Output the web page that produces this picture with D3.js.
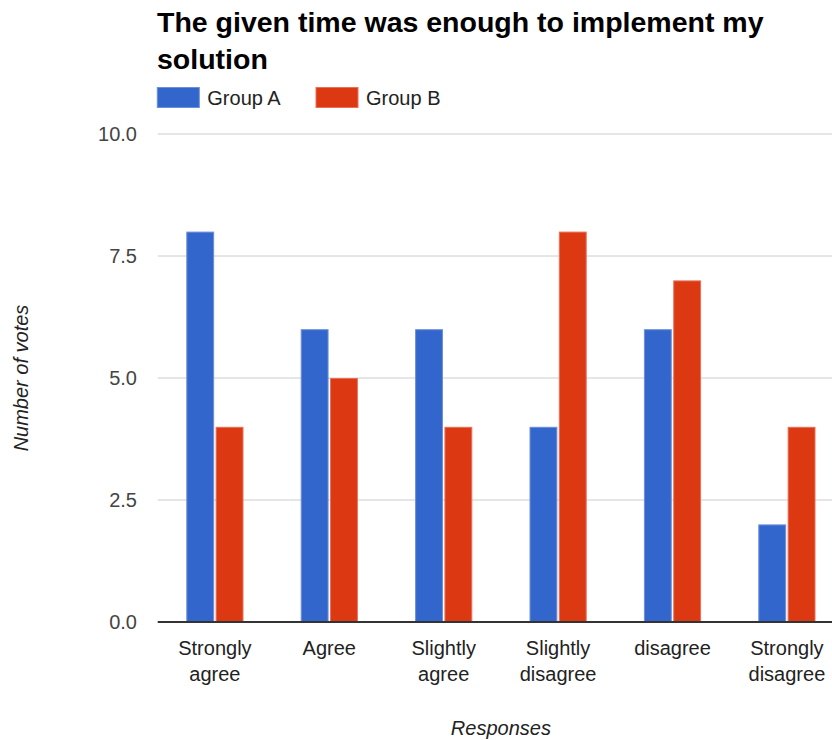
<!DOCTYPE html>
<html>
<head>
<meta charset="utf-8">
<script src="https://cdn.jsdelivr.net/npm/d3@7"></script>
<style>
  body { margin: 0; background: #fff; }
  svg { display: block; font-family: "Liberation Sans", Arial, Helvetica, sans-serif; }
</style>
</head>
<body>
<svg id="chart" width="832" height="740"></svg>
<script>
const titleLines = ["The given time was enough to implement my", "solution"];
const categories = [["Strongly", "agree"], ["Agree"], ["Slightly", "agree"], ["Slightly", "disagree"], ["disagree"], ["Strongly", "disagree"]];
const seriesNames = ["Group A", "Group B"];
const groupA = [8, 6, 6, 4, 6, 2];
const groupB = [4, 5, 4, 8, 7, 4];
const colors = ["#3366cc", "#dc3912"];
const strokeColors = ["#6c8fdb", "#e8705a"];
const yTicks = [0, 2.5, 5, 7.5, 10];
const yTitle = "Number of votes";
const xTitle = "Responses";

const svg = d3.select("#chart");
const plotLeft = 157.7, plotRight = 844.1, plotTop = 134, plotBottom = 622;

const x = d3.scaleBand().domain(d3.range(categories.length)).range([plotLeft, plotRight])
  .paddingInner(0.5).paddingOuter(0.25);
const xInner = d3.scaleBand().domain([0, 1]).range([0, x.bandwidth()]).paddingInner(0.05);
const y = d3.scaleLinear().domain([0, 10]).range([plotBottom, plotTop]);

// gridlines
svg.append("g").selectAll("line").data(yTicks.filter(t => t !== 0)).join("line")
  .attr("x1", plotLeft).attr("x2", 832)
  .attr("y1", d => y(d)).attr("y2", d => y(d))
  .attr("stroke", "#cccccc").attr("stroke-width", 1);

// y tick labels
svg.append("g").selectAll("text").data(yTicks).join("text")
  .attr("x", 137).attr("y", d => y(d)).attr("dy", "0.36em")
  .attr("text-anchor", "end").attr("font-size", 20).attr("fill", "#444")
  .text(d => d3.format(".1f")(d));

// bars
const series = [groupA, groupB];
const gBars = svg.append("g");
series.forEach((vals, si) => {
  gBars.append("g").selectAll("rect").data(vals).join("rect")
    .attr("x", (d, i) => x(i) + xInner(si) + 0.5)
    .attr("y", d => y(d) + 0.5)
    .attr("width", xInner.bandwidth() - 1)
    .attr("height", d => y(0) - y(d) - 0.5)
    .attr("fill", colors[si])
    .attr("stroke", strokeColors[si]).attr("stroke-width", 1);
});

// baseline
svg.append("line").attr("x1", plotLeft).attr("x2", 832).attr("y1", y(0)).attr("y2", y(0))
  .attr("stroke", "#333").attr("stroke-width", 2);

// x labels
const xl = svg.append("g").selectAll("text").data(categories).join("text")
  .attr("text-anchor", "middle").attr("font-size", 20).attr("fill", "#222")
  .attr("y", 655);
xl.each(function(lines, i) {
  const t = d3.select(this);
  lines.forEach((ln, j) => {
    t.append("tspan").attr("x", x(i) + x.bandwidth() / 2).attr("y", 655 + j * 26).text(ln);
  });
});

// axis titles
svg.append("text").attr("x", (plotLeft + plotRight) / 2).attr("y", 735)
  .attr("text-anchor", "middle").attr("font-size", 20).attr("font-style", "italic")
  .attr("fill", "#222").text(xTitle);
svg.append("text").attr("transform", "translate(28,378) rotate(-90)")
  .attr("text-anchor", "middle").attr("font-size", 20).attr("font-style", "italic")
  .attr("fill", "#222").text(yTitle);

// title
svg.append("g").selectAll("text").data(titleLines).join("text")
  .attr("x", 157).attr("y", (d, i) => 32 + i * 37)
  .attr("font-size", 28.5).attr("font-weight", "bold").attr("fill", "#000")
  .text(d => d);

// legend
const legendX = [157.3, 316];
const leg = svg.append("g").selectAll("g").data(seriesNames).join("g")
  .attr("transform", (d, i) => `translate(${legendX[i]},87.5)`);
leg.append("rect").attr("width", 42).attr("height", 20)
  .attr("fill", (d, i) => colors[i]).attr("stroke", (d, i) => strokeColors[i]).attr("stroke-width", 1);
leg.append("text").attr("x", 50).attr("y", 17.5).attr("font-size", 20).attr("fill", "#222")
  .text(d => d);
</script>
</body>
</html>
